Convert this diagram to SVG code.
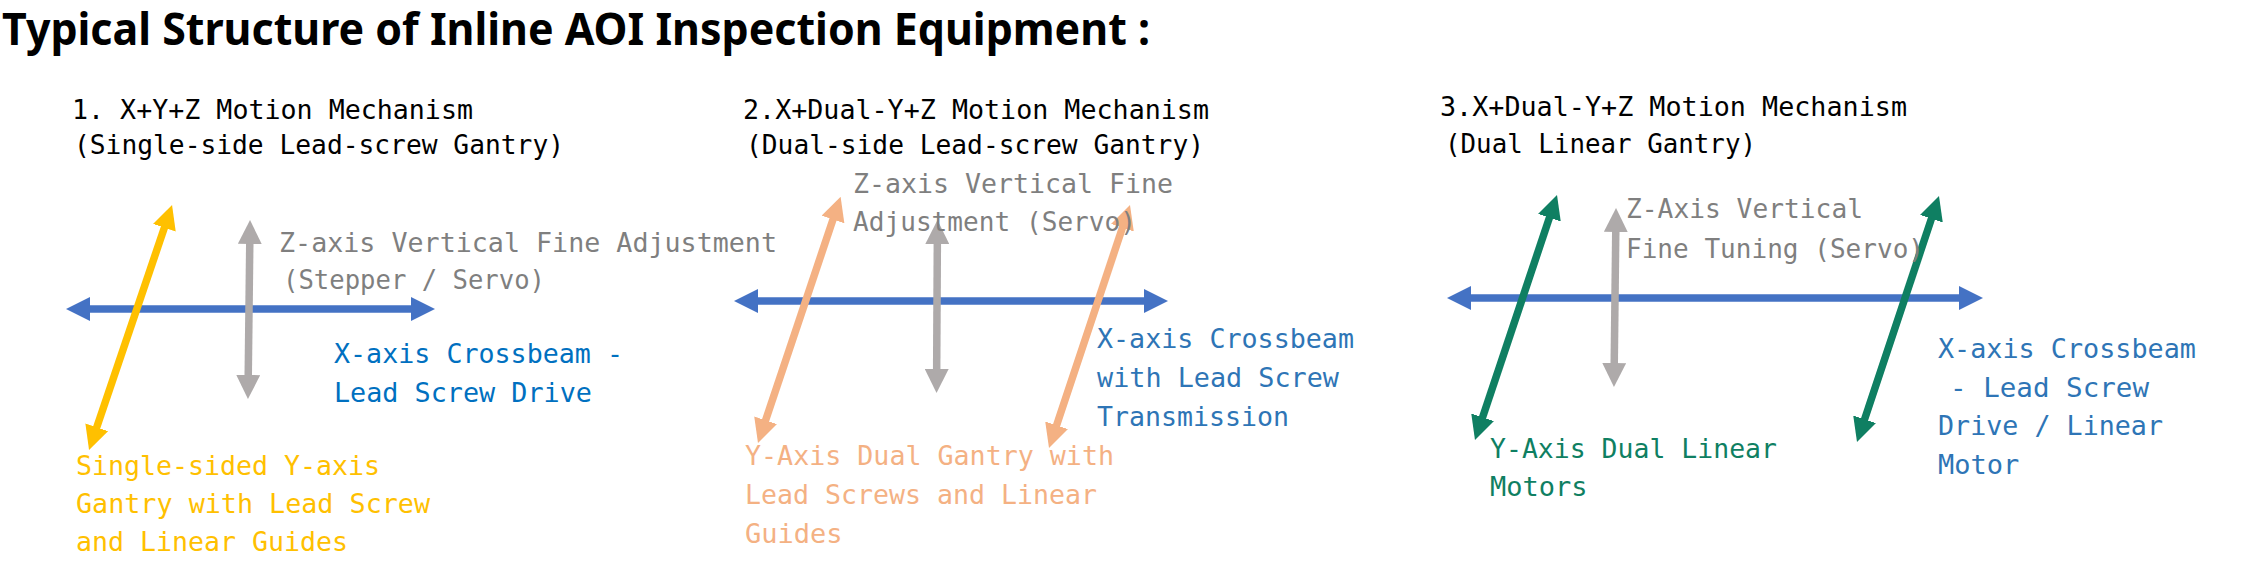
<svg xmlns="http://www.w3.org/2000/svg" width="2254" height="566" viewBox="0 0 2254 566">
<defs>
<style>
.title{font-family:"Noto Sans","Liberation Sans",sans-serif;font-weight:bold;font-size:44px;fill:#000}
.sub{font-family:"DejaVu Sans Mono","Liberation Mono",monospace;font-size:26px;fill:#000}
.lbl{font-family:"DejaVu Sans Mono","Liberation Mono",monospace;font-size:27px}
.gray{fill:#7F7F7F}
.blue{fill:#0070C0}
.blue2{fill:#2E75B6}
.yellow{fill:#FFC000}
.peach{fill:#F4B183}
.green{fill:#0F7F62}
.ar{fill:none;stroke-width:7.5}
</style>
<marker id="hBlue" markerUnits="userSpaceOnUse" markerWidth="24" markerHeight="24" refX="12" refY="12" orient="auto-start-reverse" viewBox="0 0 24 24"><path d="M0,0 L24,12 L0,24 z" fill="#4472C4"/></marker>
<marker id="hGray" markerUnits="userSpaceOnUse" markerWidth="24" markerHeight="24" refX="12" refY="12" orient="auto-start-reverse" viewBox="0 0 24 24"><path d="M0,0 L24,12 L0,24 z" fill="#AEAAAA"/></marker>
<marker id="hYellow" markerUnits="userSpaceOnUse" markerWidth="24" markerHeight="24" refX="12" refY="12" orient="auto-start-reverse" viewBox="0 0 24 24"><path d="M0,0 L24,12 L0,24 z" fill="#FFC000"/></marker>
<marker id="hPeach" markerUnits="userSpaceOnUse" markerWidth="24" markerHeight="24" refX="12" refY="12" orient="auto-start-reverse" viewBox="0 0 24 24"><path d="M0,0 L24,12 L0,24 z" fill="#F4B183"/></marker>
<marker id="hGreen" markerUnits="userSpaceOnUse" markerWidth="24" markerHeight="24" refX="12" refY="12" orient="auto-start-reverse" viewBox="0 0 24 24"><path d="M0,0 L24,12 L0,24 z" fill="#0F7F62"/></marker>
</defs>
<rect x="0" y="0" width="2254" height="566" fill="#FFFFFF"/>

<g id="title">
<text class="title" x="2" y="45" textLength="1148" lengthAdjust="spacingAndGlyphs">Typical Structure of Inline AOI Inspection Equipment :</text>
</g>

<g id="connectors">
<!-- Panel 1 -->
<line class="ar" x1="78" y1="309" x2="423" y2="309" stroke="#4472C4" marker-start="url(#hBlue)" marker-end="url(#hBlue)"/>
<line class="ar" x1="168.2" y1="216.4" x2="92.9" y2="438.6" stroke="#FFC000" marker-start="url(#hYellow)" marker-end="url(#hYellow)"/>
<line class="ar" x1="249.9" y1="232" x2="248.1" y2="387" stroke="#AEAAAA" marker-start="url(#hGray)" marker-end="url(#hGray)"/>
<!-- Panel 2 -->
<line class="ar" x1="746" y1="301" x2="1156" y2="301" stroke="#4472C4" marker-start="url(#hBlue)" marker-end="url(#hBlue)"/>
<line class="ar" x1="836.8" y1="208.1" x2="761.8" y2="431.6" stroke="#F4B183" marker-start="url(#hPeach)" marker-end="url(#hPeach)"/>
<line class="ar" x1="1126.2" y1="216.4" x2="1052.8" y2="436.6" stroke="#F4B183" marker-start="url(#hPeach)" marker-end="url(#hPeach)"/>
<line class="ar" x1="937.4" y1="232" x2="936.6" y2="381" stroke="#AEAAAA" marker-start="url(#hGray)" marker-end="url(#hGray)"/>
<!-- Panel 3 -->
<line class="ar" x1="1459" y1="298" x2="1971" y2="298" stroke="#4472C4" marker-start="url(#hBlue)" marker-end="url(#hBlue)"/>
<line class="ar" x1="1553.2" y1="206.4" x2="1478.8" y2="428.6" stroke="#0F7F62" marker-start="url(#hGreen)" marker-end="url(#hGreen)"/>
<line class="ar" x1="1935.2" y1="207.4" x2="1860.8" y2="430.6" stroke="#0F7F62" marker-start="url(#hGreen)" marker-end="url(#hGreen)"/>
<line class="ar" x1="1615.9" y1="220" x2="1614.1" y2="375" stroke="#AEAAAA" marker-start="url(#hGray)" marker-end="url(#hGray)"/>
</g>

<g id="panel1-heading">
<text class="sub" x="72" y="119" textLength="401" lengthAdjust="spacingAndGlyphs">1. X+Y+Z Motion Mechanism</text>
<text class="sub" x="74" y="154" textLength="490" lengthAdjust="spacingAndGlyphs">(Single-side Lead-screw Gantry)</text>
</g>
<g id="panel1-z-label">
<text class="lbl gray" x="279" y="252" textLength="498" lengthAdjust="spacingAndGlyphs">Z-axis Vertical Fine Adjustment</text>
<text class="lbl gray" x="283" y="289" textLength="262" lengthAdjust="spacingAndGlyphs">(Stepper / Servo)</text>
</g>
<g id="panel1-x-label">
<text class="lbl blue" x="334" y="363" textLength="289" lengthAdjust="spacingAndGlyphs">X-axis Crossbeam -</text>
<text class="lbl blue" x="334" y="402" textLength="258" lengthAdjust="spacingAndGlyphs">Lead Screw Drive</text>
</g>
<g id="panel1-y-label">
<text class="lbl yellow" x="76" y="475" textLength="304" lengthAdjust="spacingAndGlyphs">Single-sided Y-axis</text>
<text class="lbl yellow" x="76" y="513" textLength="354" lengthAdjust="spacingAndGlyphs">Gantry with Lead Screw</text>
<text class="lbl yellow" x="76" y="551" textLength="272" lengthAdjust="spacingAndGlyphs">and Linear Guides</text>
</g>

<g id="panel2-heading">
<text class="sub" x="743" y="119" textLength="466" lengthAdjust="spacingAndGlyphs">2.X+Dual-Y+Z Motion Mechanism</text>
<text class="sub" x="746" y="154" textLength="458" lengthAdjust="spacingAndGlyphs">(Dual-side Lead-screw Gantry)</text>
</g>
<g id="panel2-z-label">
<text class="lbl gray" x="853" y="193" textLength="320" lengthAdjust="spacingAndGlyphs">Z-axis Vertical Fine</text>
<text class="lbl gray" x="853" y="231" textLength="283" lengthAdjust="spacingAndGlyphs">Adjustment (Servo)</text>
</g>
<g id="panel2-x-label">
<text class="lbl blue2" x="1097" y="348" textLength="257" lengthAdjust="spacingAndGlyphs">X-axis Crossbeam</text>
<text class="lbl blue2" x="1097" y="387" textLength="242" lengthAdjust="spacingAndGlyphs">with Lead Screw</text>
<text class="lbl blue2" x="1097" y="426" textLength="192" lengthAdjust="spacingAndGlyphs">Transmission</text>
</g>
<g id="panel2-y-label">
<text class="lbl peach" x="745" y="465" textLength="369" lengthAdjust="spacingAndGlyphs">Y-Axis Dual Gantry with</text>
<text class="lbl peach" x="745" y="504" textLength="352" lengthAdjust="spacingAndGlyphs">Lead Screws and Linear</text>
<text class="lbl peach" x="745" y="543">Guides</text>
</g>

<g id="panel3-heading">
<text class="sub" x="1440" y="116" textLength="467" lengthAdjust="spacingAndGlyphs">3.X+Dual-Y+Z Motion Mechanism</text>
<text class="sub" x="1445" y="153" textLength="311" lengthAdjust="spacingAndGlyphs">(Dual Linear Gantry)</text>
</g>
<g id="panel3-z-label">
<text class="lbl gray" x="1626" y="218" textLength="237" lengthAdjust="spacingAndGlyphs">Z-Axis Vertical</text>
<text class="lbl gray" x="1626" y="258" textLength="298" lengthAdjust="spacingAndGlyphs">Fine Tuning (Servo)</text>
</g>
<g id="panel3-y-label">
<text class="lbl green" x="1490" y="458" textLength="287" lengthAdjust="spacingAndGlyphs">Y-Axis Dual Linear</text>
<text class="lbl green" x="1490" y="496">Motors</text>
</g>
<g id="panel3-x-label">
<text class="lbl blue2" x="1938" y="358" textLength="258" lengthAdjust="spacingAndGlyphs">X-axis Crossbeam</text>
<text class="lbl blue2" x="1950" y="397" textLength="199" lengthAdjust="spacingAndGlyphs">- Lead Screw</text>
<text class="lbl blue2" x="1938" y="435" textLength="225" lengthAdjust="spacingAndGlyphs">Drive / Linear</text>
<text class="lbl blue2" x="1938" y="474">Motor</text>
</g>
</svg>
